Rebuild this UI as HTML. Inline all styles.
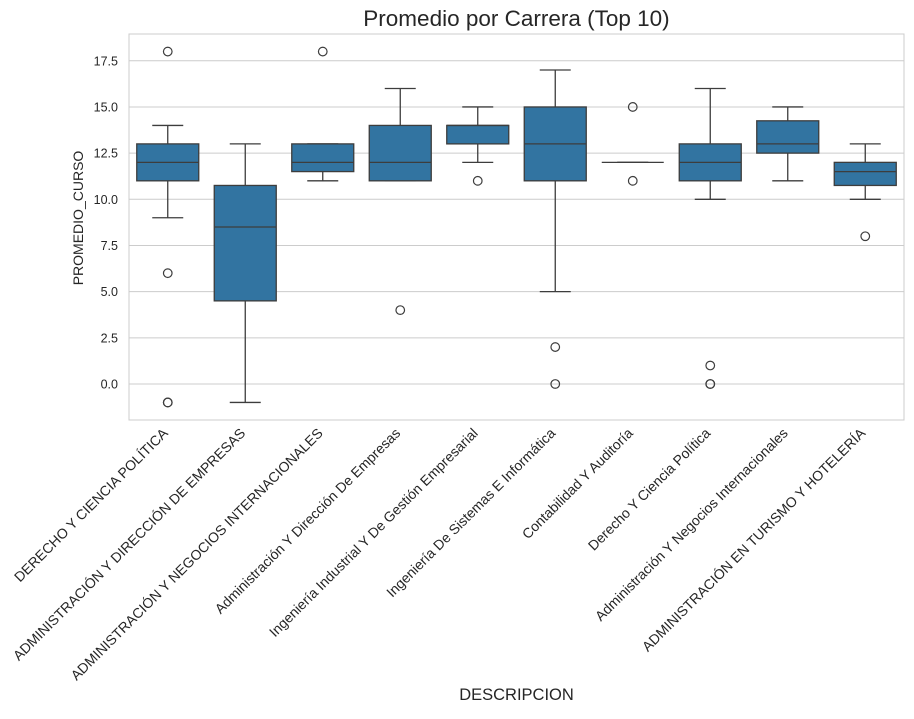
<!DOCTYPE html>
<html><head><meta charset="utf-8"><style>
body{margin:0;background:#fff;font-family:"Liberation Sans","DejaVu Sans",sans-serif}
</style></head><body>
<svg id="c" width="914" height="714" xmlns="http://www.w3.org/2000/svg" font-family="Liberation Sans, DejaVu Sans, sans-serif"></svg>
<script>
const categories=["DERECHO Y CIENCIA POLÍTICA","ADMINISTRACIÓN Y DIRECCIÓN DE EMPRESAS","ADMINISTRACIÓN Y NEGOCIOS INTERNACIONALES","Administración Y Dirección De Empresas","Ingeniería Industrial Y De Gestión Empresarial","Ingeniería De Sistemas E Informática","Contabilidad Y Auditoría","Derecho Y Ciencia Política","Administración Y Negocios Internacionales","ADMINISTRACIÓN EN TURISMO Y HOTELERÍA"];
const whiskerLow=[9,-1,11,11,12,5,12,10,11,10];
const q1=[11,4.5,11.5,11,13,11,12,11,12.5,10.75];
const median=[12,8.5,12,12,14,13,12,12,13,11.5];
const q3=[13,10.75,13,14,14,15,12,13,14.25,12];
const whiskerHigh=[14,13,13,16,15,17,12,16,15,13];
const outliers=[[18,6,-1,-1],[],[18],[4],[11],[2,0],[15,11],[1,0,0],[],[8]];
const yTicks=[0,2.5,5,7.5,10,12.5,15,17.5];
const yTickLabels=["0.0","2.5","5.0","7.5","10.0","12.5","15.0","17.5"];

const L=129,R=904,T=34,B=420,ymin=-1.95,ymax=18.95;
const svg=document.getElementById('c');
const NS='http://www.w3.org/2000/svg';
const step=(R-L)/categories.length;
const xs=i=>L+step*(i+0.5);
const ys=v=>B-(v-ymin)/(ymax-ymin)*(B-T);
function mk(t,a,p){const e=document.createElementNS(NS,t);for(const k in a)e.setAttribute(k,a[k]);(p||svg).appendChild(e);return e;}
yTicks.forEach((v,i)=>{
 const g=mk('line',{x1:L,x2:R,y1:ys(v),y2:ys(v),stroke:'#cccccc','stroke-width':1});
 
 
 const t=mk('text',{x:L-11,y:ys(v)+4.5,'text-anchor':'end','font-size':12.5,fill:'#262626'});
 t.textContent=yTickLabels[i];
 
 
});
const fr=mk('rect',{x:L,y:T,width:R-L,height:B-T,fill:'none',stroke:'#cccccc','stroke-width':1});


const bw=step*0.8, cw=bw/2;
categories.forEach((c,i)=>{
 const g=mk('g',{});
 
 
 const x=xs(i),st={stroke:'#3d3d3d','stroke-width':1.3};
 mk('line',Object.assign({x1:x,x2:x,y1:ys(whiskerLow[i]),y2:ys(q1[i])},st),g);
 mk('line',Object.assign({x1:x,x2:x,y1:ys(q3[i]),y2:ys(whiskerHigh[i])},st),g);
 mk('line',Object.assign({x1:x-cw/2,x2:x+cw/2,y1:ys(whiskerLow[i]),y2:ys(whiskerLow[i])},st),g);
 mk('line',Object.assign({x1:x-cw/2,x2:x+cw/2,y1:ys(whiskerHigh[i]),y2:ys(whiskerHigh[i])},st),g);
 mk('rect',Object.assign({x:x-bw/2,y:ys(q3[i]),width:bw,height:Math.max(0,ys(q1[i])-ys(q3[i])),fill:'#3274a1'},st),g);
 mk('line',Object.assign({x1:x-bw/2,x2:x+bw/2,y1:ys(median[i]),y2:ys(median[i])},st),g);
 outliers[i].forEach(v=>{
  const o=mk('circle',{cx:x,cy:ys(v),r:4.3,fill:'none',stroke:'#3d3d3d','stroke-width':1.2},g);
  
  
 });
 const t=mk('text',{'text-anchor':'end','font-size':14,fill:'#262626',transform:`translate(${x+1},${B+14}) rotate(-45)`});
 t.textContent=c;
 
 
});
const tt=mk('text',{x:(L+R)/2,y:26,'text-anchor':'middle','font-size':22.5,fill:'#262626'});
tt.textContent='Promedio por Carrera (Top 10)';


const yl=mk('text',{'text-anchor':'middle','font-size':14,fill:'#262626',transform:`translate(83,218) rotate(-90)`});
yl.textContent='PROMEDIO_CURSO';


const xl=mk('text',{x:(L+R)/2,y:700,'text-anchor':'middle','font-size':16.5,fill:'#262626'});
xl.textContent='DESCRIPCION';


</script>
</body></html>
